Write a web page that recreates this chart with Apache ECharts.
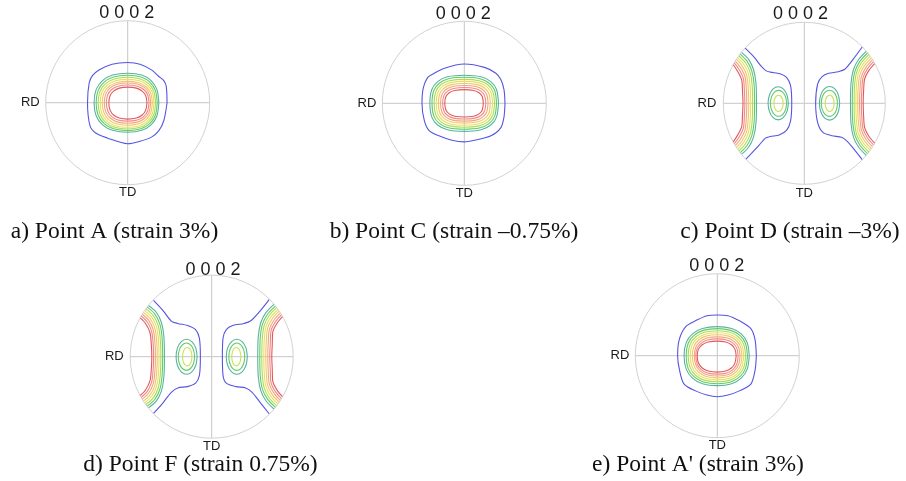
<!DOCTYPE html>
<html><head><meta charset="utf-8">
<script src="https://cdn.jsdelivr.net/npm/echarts@6/dist/echarts.min.js"></script>
<style>html,body{margin:0;padding:0;background:#fff}#c{width:906px;height:481px}</style>
</head><body><div id="c"></div>
<script>
// ---- contour level colours (outer -> inner) ----
const levelColors = ['#5555e2','#58b2a2','#62cc62','#a8de58','#e6e15e','#f4c56a','#f4a678','#f08888','#e65656'];
const ringColors = ['#58b2a2','#62cc62','#c8e35a'];
const strainLabels = ['a) Point A (strain 3%)','b) Point C (strain \u20130.75%)','c) Point D (strain \u20133%)','d) Point F (strain 0.75%)',"e) Point A' (strain 3%)"];
const poleLabel = '0 0 0 2';

// ---- Panel A : closed contours, [x, y] in units of the pole-figure radius ----
const A_levels = [
 [[0.48,0],[0.47,0.2],[0.44,0.27],[0.38,0.32],[0.29,0.4],[0.15,0.47],[0,0.49],[-0.19,0.47],[-0.35,0.4],[-0.43,0.33],[-0.47,0.24],[-0.49,0],[-0.46,-0.28],[-0.39,-0.37],[-0.25,-0.43],[0,-0.5],[0.15,-0.47],[0.29,-0.42],[0.38,-0.34],[0.44,-0.22]],
 [[.38,0],[.356,.162],[.285,.27],[.171,.337],[0,.36],[-.184,.337],[-.307,.27],[-.384,.162],[-.41,0],[-.384,-.162],[-.307,-.27],[-.184,-.337],[0,-.36],[.171,-.337],[.285,-.27],[.356,-.162]],
 [[.36,0],[.337,.15],[.27,.251],[.162,.314],[0,.335],[-.173,.314],[-.288,.251],[-.36,.15],[-.385,0],[-.36,-.153],[-.288,-.255],[-.173,-.318],[0,-.34],[.162,-.318],[.27,-.255],[.337,-.153]],
 [[.34,0],[.318,.139],[.255,.232],[.153,.29],[0,.31],[-.162,.29],[-.27,.232],[-.337,.139],[-.36,0],[-.337,-.144],[-.27,-.24],[-.162,-.3],[0,-.32],[.153,-.3],[.255,-.24],[.318,-.144]],
 [[.32,0],[.3,.128],[.24,.213],[.144,.267],[0,.285],[-.15,.267],[-.251,.213],[-.314,.128],[-.335,0],[-.314,-.135],[-.251,-.225],[-.15,-.281],[0,-.3],[.144,-.281],[.24,-.225],[.3,-.135]],
 [[.3,0],[.281,.117],[.225,.195],[.135,.243],[0,.26],[-.139,.243],[-.232,.195],[-.29,.117],[-.31,0],[-.29,-.123],[-.232,-.206],[-.139,-.257],[0,-.275],[.135,-.257],[.225,-.206],[.281,-.123]],
 [[.28,0],[.262,.108],[.21,.18],[.126,.225],[0,.24],[-.128,.225],[-.213,.18],[-.267,.108],[-.285,0],[-.267,-.112],[-.213,-.187],[-.128,-.234],[0,-.25],[.126,-.234],[.21,-.187],[.262,-.112]],
 [[.26,0],[.243,.097],[.195,.161],[.117,.201],[0,.215],[-.117,.201],[-.195,.161],[-.243,.097],[-.26,0],[-.243,-.101],[-.195,-.169],[-.117,-.211],[0,-.225],[.117,-.211],[.195,-.169],[.243,-.101]],
 [[.235,0],[.22,.085],[.176,.142],[.106,.178],[0,.19],[-.103,.178],[-.172,.142],[-.215,.085],[-.23,0],[-.215,-.09],[-.172,-.15],[-.103,-.187],[0,-.2],[.106,-.187],[.176,-.15],[.22,-.09]]
];

// ---- Panel B ----
const B_levels = [
 [[0.496,0],[0.484,0.167],[0.444,0.292],[0.385,0.367],[0.246,0.438],[0,0.479],[-0.25,0.425],[-0.389,0.354],[-0.448,0.313],[-0.5,0.188],[-0.516,0],[-0.488,-0.208],[-0.429,-0.333],[-0.31,-0.396],[-0.151,-0.45],[0,-0.471],[0.127,-0.45],[0.325,-0.396],[0.444,-0.3],[0.484,-0.167]],
 [[.417,0],[.393,.168],[.323,.265],[.205,.323],[0,.342],[-.206,.323],[-.325,.265],[-.396,.168],[-.42,0],[-.396,-.168],[-.325,-.265],[-.206,-.323],[0,-.342],[.205,-.323],[.323,-.265],[.393,-.168]],
 [[.393,0],[.371,.156],[.304,.245],[.193,.299],[0,.317],[-.193,.299],[-.305,.245],[-.372,.156],[-.394,0],[-.372,-.156],[-.305,-.245],[-.193,-.299],[0,-.317],[.193,-.299],[.304,-.245],[.371,-.156]],
 [[.369,0],[.348,.143],[.286,.226],[.181,.275],[0,.292],[-.181,.275],[-.285,.226],[-.347,.143],[-.368,0],[-.347,-.143],[-.285,-.226],[-.181,-.275],[0,-.292],[.181,-.275],[.286,-.226],[.348,-.143]],
 [[.345,0],[.325,.131],[.267,.207],[.169,.252],[0,.267],[-.168,.252],[-.265,.207],[-.323,.131],[-.342,0],[-.323,-.131],[-.265,-.207],[-.168,-.252],[0,-.267],[.169,-.252],[.267,-.207],[.325,-.131]],
 [[.318,0],[.3,.119],[.246,.187],[.156,.228],[0,.242],[-.155,.228],[-.245,.187],[-.298,.119],[-.316,0],[-.298,-.119],[-.245,-.187],[-.155,-.228],[0,-.242],[.156,-.228],[.246,-.187],[.3,-.119]],
 [[.29,0],[.273,.107],[.224,.168],[.142,.205],[0,.217],[-.142,.205],[-.224,.168],[-.273,.107],[-.29,0],[-.273,-.107],[-.224,-.168],[-.142,-.205],[0,-.217],[.142,-.205],[.224,-.168],[.273,-.107]],
 [[.262,0],[.247,.094],[.203,.149],[.129,.181],[0,.192],[-.13,.181],[-.204,.149],[-.249,.094],[-.264,0],[-.249,-.094],[-.204,-.149],[-.13,-.181],[0,-.192],[.129,-.181],[.203,-.149],[.247,-.094]],
 [[.232,0],[.219,.082],[.18,.129],[.114,.157],[0,.167],[-.117,.157],[-.184,.129],[-.224,.082],[-.238,0],[-.224,-.082],[-.184,-.129],[-.117,-.157],[0,-.167],[.114,-.157],[.18,-.129],[.219,-.082]]
];

// ---- Panel E ----
const E_levels = [
 [[0.476,0],[0.46,0.196],[0.409,0.329],[0.27,0.425],[0.131,0.488],[0,0.496],[-0.127,0.488],[-0.266,0.425],[-0.385,0.354],[-0.464,0.196],[-0.484,0],[-0.46,-0.179],[-0.405,-0.346],[-0.266,-0.429],[-0.127,-0.479],[0,-0.5],[0.131,-0.479],[0.27,-0.429],[0.409,-0.346],[0.46,-0.179]],
 [[.39,0],[.365,.159],[.292,.266],[.175,.332],[0,.355],[-.182,.332],[-.303,.266],[-.379,.159],[-.405,0],[-.379,-.164],[-.303,-.273],[-.182,-.342],[0,-.365],[.175,-.342],[.292,-.273],[.365,-.164]],
 [[.368,0],[.344,.148],[.276,.247],[.165,.309],[0,.33],[-.171,.309],[-.285,.247],[-.356,.148],[-.38,0],[-.356,-.154],[-.285,-.256],[-.171,-.32],[0,-.342],[.165,-.32],[.276,-.256],[.344,-.154]],
 [[.345,0],[.323,.137],[.258,.228],[.155,.285],[0,.305],[-.159,.285],[-.266,.228],[-.332,.137],[-.355,0],[-.332,-.143],[-.266,-.238],[-.159,-.298],[0,-.318],[.155,-.298],[.258,-.238],[.323,-.143]],
 [[.322,0],[.301,.126],[.241,.21],[.145,.262],[0,.28],[-.148,.262],[-.247,.21],[-.309,.126],[-.33,0],[-.309,-.132],[-.247,-.221],[-.148,-.276],[0,-.295],[.145,-.276],[.241,-.221],[.301,-.132]],
 [[.3,0],[.281,.114],[.225,.191],[.135,.239],[0,.255],[-.137,.239],[-.228,.191],[-.285,.114],[-.305,0],[-.285,-.121],[-.228,-.202],[-.137,-.253],[0,-.27],[.135,-.253],[.225,-.202],[.281,-.121]],
 [[.277,0],[.259,.103],[.207,.172],[.124,.215],[0,.23],[-.126,.215],[-.21,.172],[-.262,.103],[-.28,0],[-.262,-.111],[-.21,-.186],[-.126,-.232],[0,-.248],[.124,-.232],[.207,-.186],[.259,-.111]],
 [[.254,0],[.238,.092],[.19,.154],[.114,.192],[0,.205],[-.118,.192],[-.196,.154],[-.245,.092],[-.262,0],[-.245,-.101],[-.196,-.169],[-.118,-.211],[0,-.225],[.114,-.211],[.19,-.169],[.238,-.101]],
 [[.23,0],[.215,.08],[.172,.133],[.103,.167],[0,.178],[-.11,.167],[-.184,.133],[-.229,.08],[-.245,0],[-.229,-.09],[-.184,-.15],[-.11,-.187],[0,-.2],[.103,-.187],[.172,-.15],[.215,-.09]]
];

// ---- Panel C : open contours ending on the rim + closed rings ----
const C_blue = [
 [[-0.73,0.68],[-0.62,0.57],[-0.53,0.455],[-0.47,0.4],[-0.42,0.385],[-0.3,0.365],[-0.22,0.32],[-0.17,0.22],[-0.155,0],[-0.17,-0.22],[-0.22,-0.335],[-0.31,-0.39],[-0.42,-0.41],[-0.48,-0.43],[-0.56,-0.52],[-0.72,-0.69]],
 [[0.715,0.695],[0.6,0.54],[0.5,0.42],[0.42,0.39],[0.3,0.37],[0.22,0.33],[0.165,0.24],[0.14,0],[0.165,-0.24],[0.23,-0.36],[0.34,-0.4],[0.46,-0.42],[0.53,-0.47],[0.6,-0.55],[0.715,-0.695]]
];
const C_leftLobe = [
 [[-0.775,0.628],[-0.687,0.542],[-0.627,0.417],[-0.597,0.25],[-0.59,0],[-0.597,-0.25],[-0.627,-0.417],[-0.687,-0.542],[-0.775,-0.628]],
 [[-0.791,0.608],[-0.707,0.521],[-0.648,0.399],[-0.62,0.236],[-0.614,0],[-0.62,-0.236],[-0.648,-0.399],[-0.707,-0.521],[-0.791,-0.608]],
 [[-0.807,0.587],[-0.726,0.5],[-0.669,0.381],[-0.644,0.221],[-0.638,0],[-0.644,-0.221],[-0.669,-0.381],[-0.726,-0.5],[-0.807,-0.587]],
 [[-0.822,0.565],[-0.746,0.479],[-0.69,0.363],[-0.668,0.207],[-0.662,0],[-0.668,-0.207],[-0.69,-0.363],[-0.746,-0.479],[-0.822,-0.565]],
 [[-0.837,0.544],[-0.766,0.459],[-0.711,0.346],[-0.692,0.193],[-0.686,0],[-0.692,-0.193],[-0.711,-0.346],[-0.766,-0.459],[-0.837,-0.544]],
 [[-0.851,0.521],[-0.786,0.438],[-0.732,0.328],[-0.716,0.179],[-0.71,0],[-0.716,-0.179],[-0.732,-0.328],[-0.786,-0.438],[-0.851,-0.521]],
 [[-0.864,0.499],[-0.805,0.417],[-0.753,0.31],[-0.74,0.164],[-0.734,0],[-0.74,-0.164],[-0.753,-0.31],[-0.805,-0.417],[-0.864,-0.499]],
 [[-0.877,0.476],[-0.825,0.396],[-0.774,0.292],[-0.763,0.15],[-0.757,0],[-0.763,-0.15],[-0.774,-0.292],[-0.825,-0.396],[-0.877,-0.476]]
];
const C_rightLobe = [
 [[0.764,0.642],[0.67,0.54],[0.607,0.417],[0.577,0.25],[0.57,0],[0.577,-0.25],[0.607,-0.417],[0.67,-0.54],[0.764,-0.642]],
 [[0.781,0.621],[0.689,0.521],[0.627,0.4],[0.599,0.236],[0.592,0],[0.599,-0.236],[0.627,-0.4],[0.689,-0.521],[0.781,-0.621]],
 [[0.797,0.601],[0.707,0.503],[0.646,0.383],[0.621,0.221],[0.615,0],[0.621,-0.221],[0.646,-0.383],[0.707,-0.503],[0.797,-0.601]],
 [[0.812,0.579],[0.726,0.484],[0.666,0.367],[0.643,0.207],[0.637,0],[0.643,-0.207],[0.666,-0.367],[0.726,-0.484],[0.812,-0.579]],
 [[0.827,0.558],[0.744,0.466],[0.686,0.35],[0.665,0.193],[0.66,0],[0.665,-0.193],[0.686,-0.35],[0.744,-0.466],[0.827,-0.558]],
 [[0.841,0.536],[0.763,0.447],[0.706,0.333],[0.688,0.179],[0.682,0],[0.688,-0.179],[0.706,-0.333],[0.763,-0.447],[0.841,-0.536]],
 [[0.855,0.514],[0.781,0.428],[0.725,0.317],[0.71,0.164],[0.704,0],[0.71,-0.164],[0.725,-0.317],[0.781,-0.428],[0.855,-0.514]],
 [[0.868,0.491],[0.8,0.41],[0.745,0.3],[0.732,0.15],[0.727,0],[0.732,-0.15],[0.745,-0.3],[0.8,-0.41],[0.868,-0.491]]
];
const C_leftRings = [
 [[-0.197,0],[-0.214,0.103],[-0.26,0.178],[-0.322,0.205],[-0.385,0.178],[-0.43,0.103],[-0.447,0],[-0.43,-0.103],[-0.385,-0.178],[-0.322,-0.205],[-0.26,-0.178],[-0.214,-0.103]],
 [[-0.218,0],[-0.231,0.08],[-0.268,0.139],[-0.318,0.16],[-0.368,0.139],[-0.405,0.08],[-0.418,0],[-0.405,-0.08],[-0.368,-0.139],[-0.318,-0.16],[-0.268,-0.139],[-0.231,-0.08]],
 [[-0.26,0],[-0.268,0.05],[-0.289,0.087],[-0.318,0.1],[-0.347,0.087],[-0.368,0.05],[-0.376,0],[-0.368,-0.05],[-0.347,-0.087],[-0.318,-0.1],[-0.289,-0.087],[-0.268,-0.05]]
];
const C_rightRings = [
 [[0.437,0],[0.42,0.104],[0.375,0.18],[0.312,0.208],[0.25,0.18],[0.204,0.104],[0.187,0],[0.204,-0.104],[0.25,-0.18],[0.312,-0.208],[0.375,-0.18],[0.42,-0.104]],
 [[0.41,0],[0.397,0.081],[0.36,0.14],[0.31,0.162],[0.26,0.14],[0.223,0.081],[0.21,0],[0.223,-0.081],[0.26,-0.14],[0.31,-0.162],[0.36,-0.14],[0.397,-0.081]],
 [[0.369,0],[0.361,0.05],[0.341,0.087],[0.313,0.1],[0.285,0.087],[0.265,0.05],[0.257,0],[0.265,-0.05],[0.285,-0.087],[0.313,-0.1],[0.341,-0.087],[0.361,-0.05]]
];

// ---- Panel D ----
const D_blue = [
 [[-0.714,0.69],[-0.595,0.5625],[-0.496,0.4375],[-0.417,0.408],[-0.298,0.383],[-0.198,0.333],[-0.151,0.229],[-0.139,0],[-0.151,-0.229],[-0.198,-0.325],[-0.298,-0.367],[-0.417,-0.383],[-0.496,-0.4375],[-0.595,-0.5625],[-0.714,-0.696]],
 [[0.705,0.7],[0.595,0.5625],[0.476,0.4375],[0.397,0.408],[0.258,0.383],[0.179,0.333],[0.139,0.229],[0.131,0],[0.139,-0.229],[0.179,-0.325],[0.298,-0.367],[0.417,-0.383],[0.496,-0.4375],[0.595,-0.5625],[0.705,-0.7]]
];
const D_leftLobe = [
 [[-0.775,0.628],[-0.68,0.545],[-0.617,0.42],[-0.587,0.25],[-0.58,0],[-0.587,-0.25],[-0.617,-0.42],[-0.68,-0.545],[-0.775,-0.628]],
 [[-0.791,0.608],[-0.699,0.525],[-0.637,0.402],[-0.609,0.236],[-0.602,0],[-0.609,-0.236],[-0.637,-0.402],[-0.699,-0.525],[-0.791,-0.608]],
 [[-0.807,0.587],[-0.717,0.505],[-0.657,0.384],[-0.631,0.221],[-0.624,0],[-0.631,-0.221],[-0.657,-0.384],[-0.717,-0.505],[-0.807,-0.587]],
 [[-0.822,0.565],[-0.736,0.485],[-0.677,0.366],[-0.653,0.207],[-0.646,0],[-0.653,-0.207],[-0.677,-0.366],[-0.736,-0.485],[-0.822,-0.565]],
 [[-0.837,0.544],[-0.754,0.465],[-0.697,0.348],[-0.675,0.193],[-0.668,0],[-0.675,-0.193],[-0.697,-0.348],[-0.754,-0.465],[-0.837,-0.544]],
 [[-0.851,0.521],[-0.773,0.445],[-0.717,0.33],[-0.697,0.179],[-0.691,0],[-0.697,-0.179],[-0.717,-0.33],[-0.773,-0.445],[-0.851,-0.521]],
 [[-0.864,0.499],[-0.791,0.425],[-0.737,0.312],[-0.719,0.164],[-0.713,0],[-0.719,-0.164],[-0.737,-0.312],[-0.791,-0.425],[-0.864,-0.499]],
 [[-0.877,0.476],[-0.81,0.405],[-0.757,0.294],[-0.741,0.15],[-0.735,0],[-0.741,-0.15],[-0.757,-0.294],[-0.81,-0.405],[-0.877,-0.476]]
];
const D_rightLobe = [
 [[0.764,0.642],[0.665,0.54],[0.602,0.417],[0.572,0.25],[0.565,0],[0.572,-0.25],[0.602,-0.417],[0.665,-0.54],[0.764,-0.642]],
 [[0.781,0.621],[0.685,0.521],[0.623,0.4],[0.596,0.236],[0.59,0],[0.596,-0.236],[0.623,-0.4],[0.685,-0.521],[0.781,-0.621]],
 [[0.797,0.601],[0.704,0.503],[0.644,0.383],[0.621,0.221],[0.614,0],[0.621,-0.221],[0.644,-0.383],[0.704,-0.503],[0.797,-0.601]],
 [[0.812,0.579],[0.724,0.484],[0.665,0.367],[0.645,0.207],[0.639,0],[0.645,-0.207],[0.665,-0.367],[0.724,-0.484],[0.812,-0.579]],
 [[0.827,0.558],[0.743,0.466],[0.686,0.35],[0.67,0.193],[0.663,0],[0.67,-0.193],[0.686,-0.35],[0.743,-0.466],[0.827,-0.558]],
 [[0.841,0.536],[0.763,0.447],[0.707,0.333],[0.694,0.179],[0.688,0],[0.694,-0.179],[0.707,-0.333],[0.763,-0.447],[0.841,-0.536]],
 [[0.855,0.514],[0.782,0.428],[0.728,0.317],[0.719,0.164],[0.712,0],[0.719,-0.164],[0.728,-0.317],[0.782,-0.428],[0.855,-0.514]],
 [[0.868,0.491],[0.802,0.41],[0.749,0.3],[0.743,0.15],[0.737,0],[0.743,-0.15],[0.749,-0.3],[0.802,-0.41],[0.868,-0.491]]
];
const D_leftRings = [
 [[-0.179,0],[-0.196,0.108],[-0.244,0.186],[-0.308,0.215],[-0.373,0.186],[-0.42,0.108],[-0.437,0],[-0.42,-0.108],[-0.373,-0.186],[-0.308,-0.215],[-0.244,-0.186],[-0.196,-0.108]],
 [[-0.21,0],[-0.223,0.084],[-0.26,0.145],[-0.31,0.168],[-0.36,0.145],[-0.397,0.084],[-0.41,0],[-0.397,-0.084],[-0.36,-0.145],[-0.31,-0.168],[-0.26,-0.145],[-0.223,-0.084]],
 [[-0.242,0],[-0.25,0.057],[-0.271,0.098],[-0.3,0.113],[-0.329,0.098],[-0.35,0.057],[-0.358,0],[-0.35,-0.057],[-0.329,-0.098],[-0.3,-0.113],[-0.271,-0.098],[-0.25,-0.057]]
];
const D_rightRings = [
 [[0.437,0],[0.42,0.108],[0.373,0.186],[0.308,0.215],[0.244,0.186],[0.196,0.108],[0.179,0],[0.196,-0.108],[0.244,-0.186],[0.308,-0.215],[0.373,-0.186],[0.42,-0.108]],
 [[0.406,0],[0.393,0.084],[0.357,0.145],[0.308,0.168],[0.259,0.145],[0.223,0.084],[0.21,0],[0.223,-0.084],[0.259,-0.145],[0.308,-0.168],[0.357,-0.145],[0.393,-0.084]],
 [[0.358,0],[0.35,0.057],[0.33,0.098],[0.302,0.113],[0.274,0.098],[0.254,0.057],[0.246,0],[0.254,-0.057],[0.274,-0.098],[0.302,-0.113],[0.33,-0.098],[0.35,-0.057]]
];

// ---- layout (pixel placement of each pole figure) ----
const panels = [
 {cx:127.7, cy:102.7, r:82,   tx:126.7, ty:13,    cap:[114.5,232]},
 {cx:464.3, cy:103.3, r:82,   tx:463.3, ty:14,    cap:[454,232]},
 {cx:804.3, cy:103.3, r:81,   tx:800.5, ty:14,    cap:[790,232]},
 {cx:211.7, cy:356.7, r:81.5, tx:213,   ty:269.7, cap:[200.5,464.5]},
 {cx:717.3, cy:355.7, r:82,   tx:716.7, ty:266.3, cap:[698,464.5]}
];

function toPolar(pts, closed){
  const d = pts.map(([x,y]) => [Math.hypot(x,y), (Math.atan2(y,x)*180/Math.PI + 360) % 360]);
  if (closed) d.push(d[0]);
  return d;
}
const series = [];
function add(p, pts, color, closed){
  series.push({type:'line', coordinateSystem:'polar', polarIndex:p, data:toPolar(pts, closed),
    smooth:0.3, symbol:'none', showSymbol:false, silent:true, clip:false,
    lineStyle:{color:color, width:1.1}, z:3});
}
[[0,A_levels],[1,B_levels],[4,E_levels]].forEach(([p,lv]) => lv.forEach((c,i) => add(p, c, levelColors[i], true)));
[[2,C_blue,C_leftLobe,C_rightLobe,C_leftRings,C_rightRings],[3,D_blue,D_leftLobe,D_rightLobe,D_leftRings,D_rightRings]].forEach(([p,bl,ll,rl,lr,rr]) => {
  bl.forEach(c => add(p, c, levelColors[0], false));
  ll.forEach((c,i) => add(p, c, levelColors[i+1], false));
  rl.forEach((c,i) => add(p, c, levelColors[i+1], false));
  lr.forEach((c,i) => add(p, c, ringColors[i], true));
  rr.forEach((c,i) => add(p, c, ringColors[i], true));
});

const graphics = [];
panels.forEach((l,i) => {
  graphics.push({type:'text', x:l.tx, y:l.ty, style:{text:poleLabel, font:'18px "Liberation Sans", Arial, sans-serif', fill:'#1a1a1a', align:'center', verticalAlign:'middle'}});
  graphics.push({type:'text', x:l.cx-88, y:l.cy, style:{text:'RD', font:'13px "Liberation Sans", Arial, sans-serif', fill:'#1a1a1a', align:'right', verticalAlign:'middle'}});
  graphics.push({type:'text', x:l.cx, y:l.cy+90, style:{text:'TD', font:'13px "Liberation Sans", Arial, sans-serif', fill:'#1a1a1a', align:'center', verticalAlign:'middle'}});
  graphics.push({type:'text', x:l.cap[0], y:l.cap[1], style:{text:strainLabels[i], font:'23.5px "Liberation Serif", "Times New Roman", serif', fill:'#111', align:'center', verticalAlign:'middle'}});
});

const chart = echarts.init(document.getElementById('c'), null, {renderer:'canvas'});
chart.setOption({
  animation:false,
  backgroundColor:'#ffffff',
  polar: panels.map(l => ({center:[l.cx, l.cy], radius:l.r})),
  angleAxis: panels.map((l,i) => ({polarIndex:i, type:'value', min:0, max:360, interval:90, startAngle:0, clockwise:false,
    axisLine:{show:true, lineStyle:{color:'#d2d2d2', width:1}}, axisTick:{show:false}, axisLabel:{show:false},
    splitLine:{show:true, lineStyle:{color:'#c6c6c6', width:1}}, splitArea:{show:false}})),
  radiusAxis: panels.map((l,i) => ({polarIndex:i, type:'value', min:0, max:1,
    axisLine:{show:false}, axisTick:{show:false}, axisLabel:{show:false}, splitLine:{show:false}, splitArea:{show:false}})),
  series: series,
  graphic: graphics
});
</script></body></html>
